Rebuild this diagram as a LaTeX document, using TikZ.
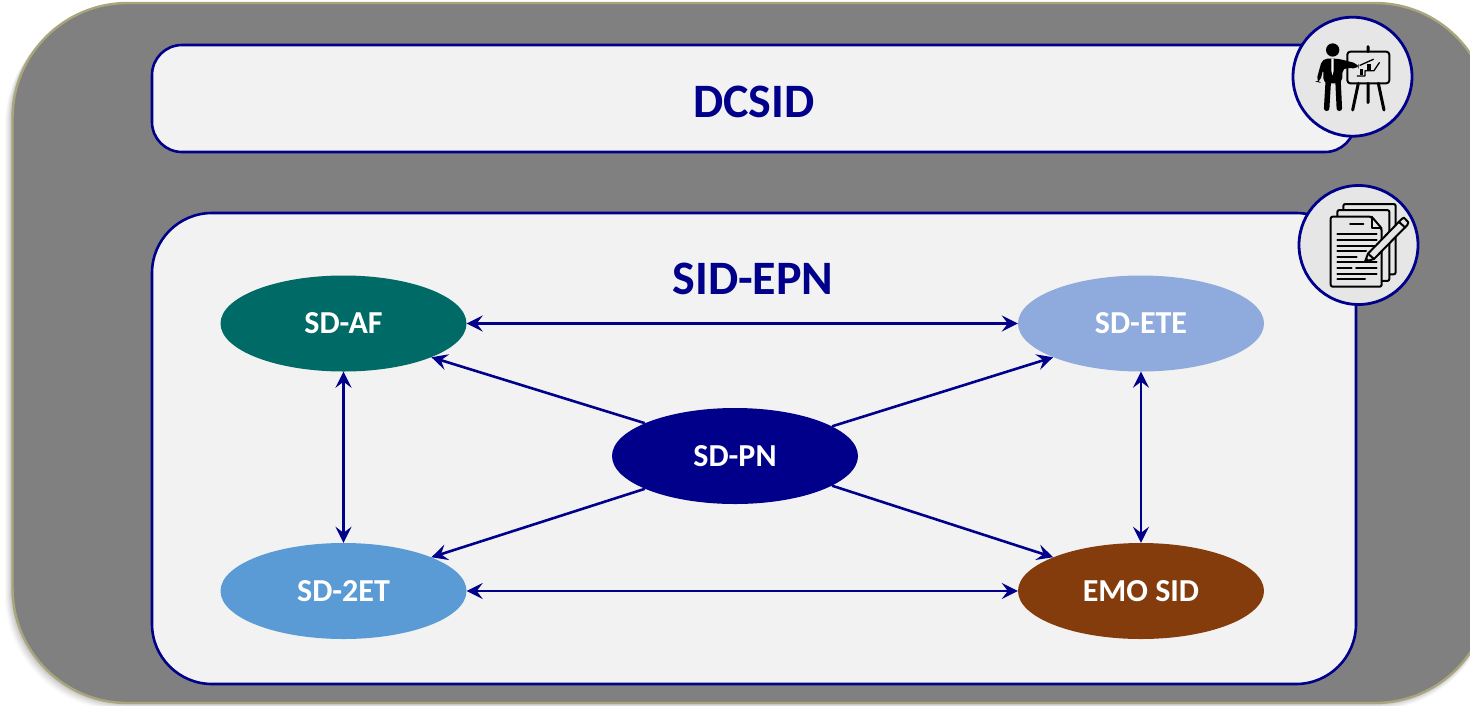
\documentclass[tikz,border=0pt]{standalone}
\usepackage{fontspec}
\setmainfont{Carlito}
\usetikzlibrary{shapes.geometric,arrows.meta}
\definecolor{navy}{HTML}{00008B}
\definecolor{panel}{HTML}{F2F2F2}
\definecolor{iconbg}{HTML}{E6E6E6}
\definecolor{outerfill}{HTML}{808080}
\definecolor{outeredge}{HTML}{A9A57C}
\definecolor{teal}{HTML}{006A66}
\definecolor{lblue}{HTML}{8FAADC}
\definecolor{mblue}{HTML}{5B9BD5}
\definecolor{brownish}{HTML}{843C0C}
\newcommand{\ovaltext}[1]{\raisebox{-3.5pt}{#1}}
\tikzset{
  x=1pt,y=-1pt,
  oval/.style={ellipse,minimum width=246pt,minimum height=96pt,inner sep=0pt,text=white,font=\fontsize{32}{36}\selectfont\bfseries},
  panelbox/.style={draw=navy,line width=2.6pt,fill=panel},
  title/.style={text=navy,font=\fontsize{48}{52}\selectfont\bfseries,inner sep=0pt},
  link/.style={draw=navy,line width=2.6pt,-{Stealth[length=16pt,width=16pt,inset=6pt]}},
  biglink/.style={draw=navy,line width=2.6pt,{Stealth[length=16pt,width=16pt,inset=6pt]}-{Stealth[length=16pt,width=16pt,inset=6pt]}},
  badge/.style={draw=navy,line width=2.8pt,fill=iconbg},
  ink/.style={draw=black,line width=2pt,line cap=round,line join=round},
}
\begin{document}
\begin{tikzpicture}
\useasboundingbox (0,0) rectangle (1470,705);
\begin{scope}
\clip (0,0) rectangle (1470,705);
% soft shadow of outer panel
\foreach \d/\o in {7/.02,6/.025,5/.03,4/.035,3/.04,2/.05,1/.06}{
  \fill[black,opacity=\o] (12-\d,3+\d) [rounded corners=115pt] rectangle (1490,703+\d);
}
\draw[fill=outerfill,draw=outeredge,line width=2.4pt,rounded corners=115pt] (12.5,3) rectangle (1490,703);
\end{scope}
\draw[panelbox,rounded corners=30pt] (152,45) rectangle (1355,152);
\draw[panelbox,rounded corners=60pt] (152,213) rectangle (1356,684);
\node[title] (t1) at (754,102) {DCSID};
\node[title] (t2) at (753,279) {SID-EPN};
\node[oval,fill=teal] (af) at (343.5,323.5) {\ovaltext{SD-AF}};
\node[oval,fill=lblue] (ete) at (1141,323.5) {\ovaltext{SD-ETE}};
\node[oval,fill=navy] (pn) at (735,456) {\ovaltext{SD-PN}};
\node[oval,fill=mblue] (et) at (343.5,591) {\ovaltext{SD-2ET}};
\node[oval,fill=brownish] (emo) at (1141,591) {\ovaltext{EMO SID}};
\draw[biglink] (af) -- (ete);
\draw[biglink] (et) -- (emo);
\draw[biglink] (af) -- (et);
\draw[biglink] (ete) -- (emo);
\draw[link] (pn.160) -- (af.-21);
\draw[link] (pn.17) -- (ete.201);
\draw[link] (pn.200) -- (et.21);
\draw[link] (pn.-17) -- (emo.159);
% presenter badge
\node[badge,circle,minimum size=119pt,inner sep=0pt] (b1) at (1352.5,76.7) {};
\begin{scope}[shift={(1270,0)},x=.3333pt,y=-.3333pt]
\draw[ink,fill=iconbg,rounded corners=3pt] (232,155) rectangle (358,250);
\draw[ink,line width=3pt] (294,140) -- (294,155) (265,250) -- (248,330) (294,250) -- (294,308) (325,250) -- (342,330);
\draw[ink,line width=1.3pt] (270,196) -- (310,178);
\fill (270,208) rectangle (280,226);
\fill (292,193) rectangle (303,210);
\draw[ink,line width=1.3pt] (262,228) -- (285,228) -- (285,212) -- (312,212) -- (328,188);
\fill (188,150) circle (20);
\fill[rounded corners=5pt] (157,176) -- (205,176) -- (266,192) -- (266,206) -- (218,203) -- (216,250) -- (160,250) -- (160,205) -- (150,248) -- (138,245) -- cycle;
\draw[black,line width=5.5pt,line cap=round] (175,240) -- (170,325) (204,240) -- (208,325);
\fill[white] (184,176) -- (191,176) -- (191,212) -- (187.5,226) -- (184,212) -- cycle;
\end{scope}
% document badge
\node[badge,circle,minimum size=119pt,inner sep=0pt] (b2) at (1358.5,245) {};
\begin{scope}[shift={(1280,175)},x=.3333pt,y=-.3333pt]
\draw[ink,rounded corners=2pt] (190,105) -- (190,87) -- (347,87) -- (347,298) -- (330,298);
\draw[ink,rounded corners=2pt] (172,125) -- (172,105) -- (328,105) -- (328,318) -- (308,318);
\draw[ink,fill=iconbg,rounded corners=2pt] (152,125) -- (275,125) -- (305,160) -- (305,335) -- (152,335) -- cycle;
\draw[ink] (275,125) -- (275,158) -- (305,158);
\draw[ink] (210,147) -- (250,147);
\foreach \y in {178,195,212,262,296}{\draw[ink] (172,\y) -- (290,\y);}
\draw[ink] (172,245) -- (230,245);
\draw[ink] (172,228) -- (258,228);
\draw[ink] (172,280) -- (215,280) (228,280) -- (290,280);
\draw[ink] (172,313) -- (255,313);
\draw[ink,fill=iconbg] (255,260) -- (264,236) -- (365,132) -- (372,128) -- (385,142) -- (382,150) -- (282,252) -- cycle;
\draw[ink] (264,236) -- (282,252) (356,140) -- (376,158);
\fill (255,260) -- (259,248) -- (268,256) -- cycle;
\end{scope}
\end{tikzpicture}
\end{document}
